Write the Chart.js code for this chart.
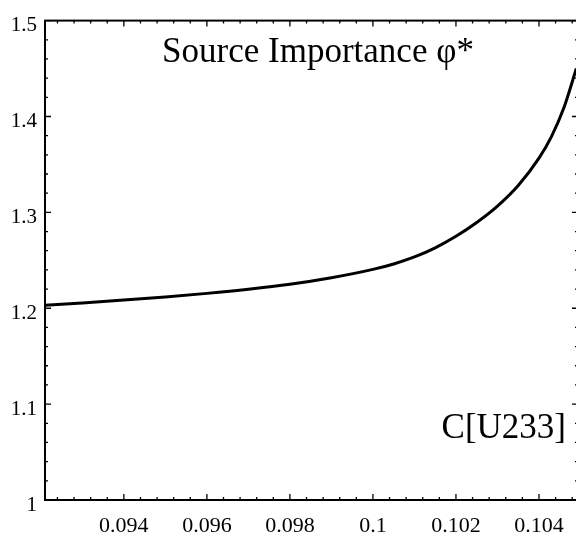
<!DOCTYPE html>
<html>
<head>
<meta charset="utf-8">
<script src="https://cdn.jsdelivr.net/npm/chart.js@4.4.1/dist/chart.umd.min.js"></script>
<style>
  html, body { margin: 0; padding: 0; overflow: hidden; background: #fff; }
  canvas { display: block; }
</style>
</head>
<body>
<canvas id="chart" width="580" height="538"></canvas>
<script>
const concentration = [0.0921, 0.093, 0.094, 0.095, 0.096, 0.097, 0.098, 0.099, 0.1, 0.1005, 0.101, 0.1015, 0.102, 0.1025, 0.103, 0.1035, 0.104, 0.1043, 0.1046, 0.1049]
const importance = [1.2030, 1.2055, 1.2085, 1.2118, 1.2155, 1.2198, 1.2250, 1.2318, 1.2405, 1.2462, 1.2535, 1.2630, 1.2750, 1.2894, 1.3065, 1.3280, 1.3565, 1.3790, 1.4090, 1.4500]

const xTicks = [0.094, 0.096, 0.098, 0.1, 0.102, 0.104]
const xTickLabels = ['0.094', '0.096', '0.098', '0.1', '0.102', '0.104']
const yTicks = [1, 1.1, 1.2, 1.3, 1.4, 1.5]
const yTickLabels = ['1', '1.1', '1.2', '1.3', '1.4', '1.5']

const titleText = 'Source Importance φ*'
const axisText = 'C[U233]'

const serif = '"Liberation Serif", "DejaVu Serif", serif'

// frame with inward ticks on all four sides, plus the in-plot labels
const frame = {
  id: 'frame',
  afterDraw(chart) {
    const { ctx, chartArea: a, scales: { x, y } } = chart
    ctx.save()
    ctx.strokeStyle = '#000'
    ctx.lineWidth = 1.3

    const xStep = 0.0004
    for (let k = Math.ceil(x.min / xStep); k * xStep <= x.max; k++) {
      const px = x.getPixelForValue(k * xStep)
      const len = k % 5 === 0 ? 6 : 3
      ctx.beginPath()
      ctx.moveTo(px, a.bottom)
      ctx.lineTo(px, a.bottom - len)
      ctx.moveTo(px, a.top)
      ctx.lineTo(px, a.top + len)
      ctx.stroke()
    }

    const yStep = 0.02
    for (let k = Math.ceil(y.min / yStep - 1e-9); k * yStep <= y.max + 1e-9; k++) {
      const py = y.getPixelForValue(k * yStep)
      const len = k % 5 === 0 ? 6 : 3
      ctx.beginPath()
      ctx.moveTo(a.left, py)
      ctx.lineTo(a.left + len, py)
      ctx.moveTo(a.right, py)
      ctx.lineTo(a.right - len, py)
      ctx.stroke()
    }

    ctx.lineWidth = 2
    ctx.strokeRect(a.left, a.top, a.right - a.left, a.bottom - a.top)

    ctx.fillStyle = '#000'
    ctx.textBaseline = 'alphabetic'
    ctx.font = '35px ' + serif
    ctx.textAlign = 'center'
    ctx.fillText(titleText, 318, 62)
    ctx.textAlign = 'right'
    ctx.fillText(axisText, 566, 438)
    ctx.restore()
  }
}

new Chart(document.getElementById('chart'), {
  type: 'line',
  data: {
    datasets: [{
      data: concentration.map((c, i) => ({ x: c, y: importance[i] })),
      borderColor: '#000',
      borderWidth: 3,
      pointRadius: 0,
      fill: false,
      cubicInterpolationMode: 'monotone'
    }]
  },
  options: {
    responsive: false,
    animation: false,
    devicePixelRatio: 1,
    layout: {
      padding: { top: 12, right: 2, left: 0, bottom: 0 }
    },
    plugins: {
      legend: { display: false },
      tooltip: { enabled: false }
    },
    scales: {
      x: {
        type: 'linear',
        min: 0.0921,
        max: 0.10494,
        afterBuildTicks: scale => { scale.ticks = xTicks.map(value => ({ value })) },
        afterFit: scale => { scale.height = 38 },
        grid: { display: false, drawTicks: false },
        border: { display: false },
        ticks: {
          autoSkip: false,
          maxRotation: 0,
          padding: 13,
          color: '#000',
          font: { family: serif, size: 22 },
          callback: value => xTickLabels[xTicks.indexOf(value)]
        }
      },
      y: {
        min: 1,
        max: 1.5,
        afterBuildTicks: scale => { scale.ticks = yTicks.map(value => ({ value })) },
        afterFit: scale => { scale.width = 45 },
        grid: { display: false, drawTicks: false },
        border: { display: false },
        ticks: {
          padding: 8,
          labelOffset: 5,
          color: '#000',
          font: { family: serif, size: 21 },
          callback: value => yTickLabels[yTicks.indexOf(value)]
        }
      }
    }
  },
  plugins: [frame]
})
</script>
</body>
</html>
